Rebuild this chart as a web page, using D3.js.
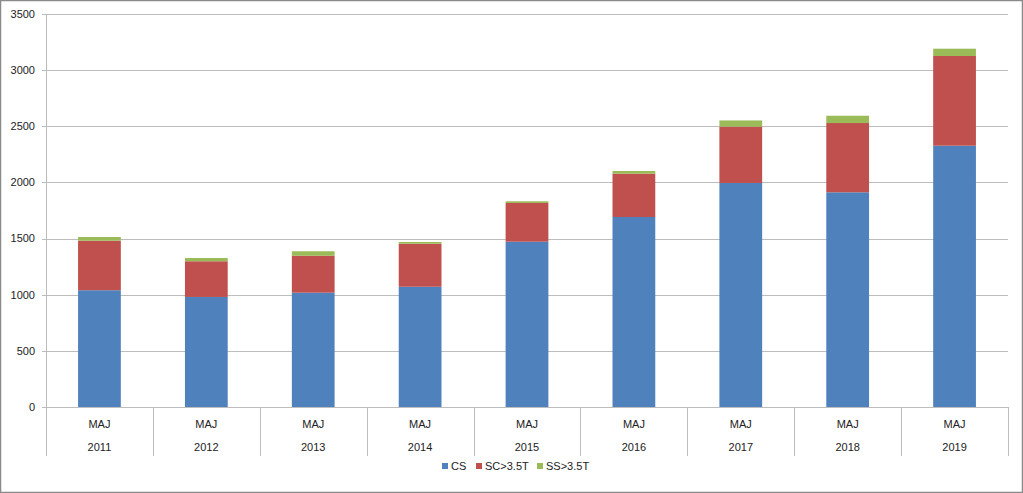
<!DOCTYPE html>
<html>
<head>
<meta charset="utf-8">
<script src="https://cdn.jsdelivr.net/npm/d3@7"></script>
<style>
  html, body { margin: 0; padding: 0; background: #fff; }
  svg { display: block; }
  text { font-family: "Liberation Sans", Arial, sans-serif; fill: #222; }
</style>
</head>
<body>
<script>
const years = ["2011", "2012", "2013", "2014", "2015", "2016", "2017", "2018", "2019"];
const subLabel = "MAJ";
const seriesNames = ["CS", "SC>3.5T", "SS>3.5T"];
const csValues = [1040, 980, 1018, 1071, 1472, 1692, 1995, 1912, 2327];
const scValues = [441, 318, 329, 383, 345, 386, 502, 617, 799];
const ssValues = [33, 29, 40, 16, 15, 24, 55, 65, 65];
const yTicks = [0, 500, 1000, 1500, 2000, 2500, 3000, 3500];
const colors = ["#4F81BD", "#C0504D", "#9BBB59"];

const W = 1023, H = 493;
const plot = { left: 46, right: 1008, top: 14, bottom: 407 };

const svg = d3.select("body").append("svg").attr("width", W).attr("height", H);

// outer frame
svg.append("rect").attr("x", 0.5).attr("y", 0.5).attr("width", W - 1).attr("height", H - 1)
  .attr("fill", "#fff").attr("stroke", "#8a8a8a").attr("stroke-width", 1.5);

const x = d3.scaleBand().domain(years).range([plot.left, plot.right]).padding(0);
const y = d3.scaleLinear().domain([0, 3500]).range([plot.bottom, plot.top]);

// gridlines
svg.append("g").selectAll("line").data(yTicks).join("line")
  .attr("x1", plot.left - 4).attr("x2", plot.right)
  .attr("y1", d => Math.round(y(d)) + 0.5).attr("y2", d => Math.round(y(d)) + 0.5)
  .attr("stroke", "#bdbdbd").attr("stroke-width", 1);

// y labels
svg.append("g").selectAll("text").data(yTicks).join("text")
  .attr("x", plot.left - 11).attr("y", d => y(d)).attr("dy", "0.35em")
  .attr("text-anchor", "end").attr("font-size", 11).text(d => d);

// stacked data
const rows = years.map((yr, i) => ({ year: yr, "CS": csValues[i], "SC>3.5T": scValues[i], "SS>3.5T": ssValues[i] }));
const stack = d3.stack().keys(seriesNames)(rows);

const barFrac = 0.4;
svg.append("g").selectAll("g").data(stack).join("g")
  .attr("fill", (d, i) => colors[i])
  .selectAll("rect").data(d => d).join("rect")
  .attr("x", d => x(d.data.year) + x.bandwidth() * (1 - barFrac) / 2)
  .attr("width", x.bandwidth() * barFrac)
  .attr("y", d => y(d[1]))
  .attr("height", d => y(d[0]) - y(d[1]));

// left axis line
svg.append("line").attr("x1", plot.left + 0.5).attr("x2", plot.left + 0.5)
  .attr("y1", plot.top).attr("y2", plot.bottom).attr("stroke", "#bdbdbd");

// category boundaries
const bounds = years.map(d => x(d)).concat([x(years[years.length - 1]) + x.bandwidth()]);
svg.append("g").selectAll("line").data(bounds).join("line")
  .attr("x1", d => Math.round(d) + 0.5).attr("x2", d => Math.round(d) + 0.5)
  .attr("y1", plot.bottom).attr("y2", 456)
  .attr("stroke", "#bdbdbd");

// category labels
const cat = svg.append("g");
cat.selectAll("text.maj").data(years).join("text").attr("class", "maj")
  .attr("x", d => x(d) + x.bandwidth() / 2).attr("y", 424).attr("dy", "0.35em")
  .attr("text-anchor", "middle").attr("font-size", 11).text(subLabel);
cat.selectAll("text.yr").data(years).join("text").attr("class", "yr")
  .attr("x", d => x(d) + x.bandwidth() / 2).attr("y", 447).attr("dy", "0.35em")
  .attr("text-anchor", "middle").attr("font-size", 11).text(d => d);

// legend
const legendX = [442, 476, 537];
const lg = svg.append("g");
seriesNames.forEach((s, i) => {
  lg.append("rect").attr("x", legendX[i]).attr("y", 463).attr("width", 6).attr("height", 6).attr("fill", colors[i]);
  lg.append("text").attr("x", legendX[i] + 9).attr("y", 466).attr("dy", "0.35em")
    .attr("font-size", 11).text(s);
});
</script>
</body>
</html>
